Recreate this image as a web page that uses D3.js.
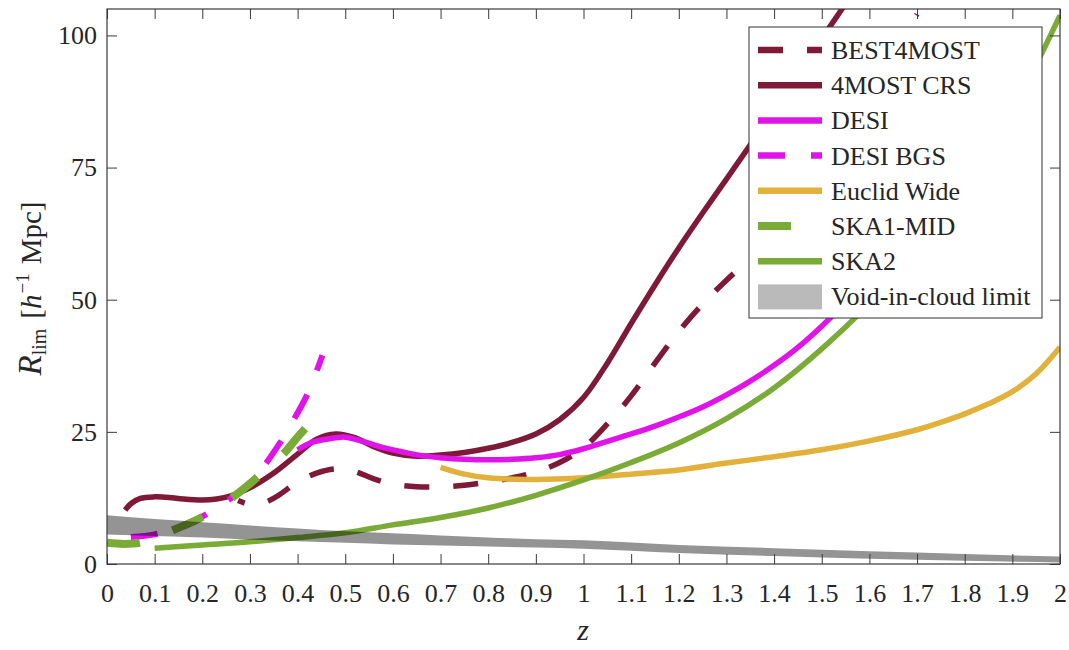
<!DOCTYPE html>
<html>
<head>
<meta charset="utf-8">
<script src="https://cdn.jsdelivr.net/npm/d3@7"></script>
<style>
  body { margin: 0; background: #fff; }
  svg { display: block; }
  text { font-family: "Liberation Serif", "Times New Roman", serif; fill: #262626; }
</style>
</head>
<body>
<svg id="chart" width="1069" height="650"></svg>
<script>
// ---- axis ticks ----
const xTicks = [0,0.1,0.2,0.3,0.4,0.5,0.6,0.7,0.8,0.9,1,1.1,1.2,1.3,1.4,1.5,1.6,1.7,1.8,1.9,2];
const xTickLabels = ["0","0.1","0.2","0.3","0.4","0.5","0.6","0.7","0.8","0.9","1","1.1","1.2","1.3","1.4","1.5","1.6","1.7","1.8","1.9","2"];
const yTicks = [0,25,50,75,100];
const yTickLabels = ["0","25","50","75","100"];

// ---- survey curves: redshift z and limiting void radius R_lim ----
const best4mostZ = [0.275,0.30,0.33,0.36,0.40,0.44,0.48,0.52,0.56,0.60,0.65,0.70,0.75,0.80,0.85,0.90,0.95,1.00,1.05,1.10,1.15,1.20,1.25,1.30,1.35,1.40,1.50,1.60,1.70];
const best4mostR = [12.0,11.3,11.6,13.0,15.5,17.2,18.0,17.5,16.1,15.1,14.6,14.6,14.9,15.5,16.3,17.4,19.2,22.0,26.5,31.8,38.0,44.0,49.2,53.7,57.8,62.5,74.0,88.0,104.0];

const crsZ = [0.038,0.05,0.07,0.10,0.13,0.16,0.20,0.23,0.26,0.30,0.35,0.40,0.44,0.48,0.52,0.56,0.60,0.65,0.70,0.75,0.80,0.85,0.90,0.95,1.00,1.05,1.10,1.15,1.20,1.25,1.30,1.35,1.40,1.45,1.50,1.55,1.60];
const crsR = [10.2,11.4,12.4,12.7,12.6,12.3,12.1,12.3,12.9,14.4,17.2,20.8,23.6,24.6,23.9,22.2,21.0,20.4,20.6,21.1,21.9,23.0,24.6,27.3,31.5,38.0,45.5,52.8,59.8,66.4,72.8,79.3,86.0,92.7,99.4,106.0,112.5];

const desiZ = [0.40,0.43,0.46,0.50,0.54,0.58,0.62,0.66,0.70,0.75,0.80,0.85,0.90,0.95,1.00,1.05,1.10,1.15,1.20,1.25,1.30,1.35,1.40,1.45,1.50,1.55,1.60,1.70,1.80];
const desiR = [21.6,23.0,23.6,24.0,23.1,22.0,21.2,20.5,20.1,19.8,19.7,19.8,20.1,20.7,21.8,23.2,24.6,26.1,27.8,29.7,32.0,34.6,37.6,41.0,45.0,49.5,54.5,66.0,80.0];

const desiBgsZ = [0.05,0.10,0.15,0.20,0.25,0.30,0.325,0.363,0.39,0.42,0.44,0.452];
const desiBgsR = [5.1,5.6,7.0,9.0,11.8,15.3,18.0,22.9,27.0,32.0,36.5,39.5];

const euclidZ = [0.70,0.75,0.80,0.90,1.00,1.10,1.20,1.30,1.40,1.50,1.60,1.70,1.75,1.80,1.85,1.90,1.95,2.00];
const euclidR = [18.3,17.0,16.3,16.0,16.3,17.0,17.8,19.1,20.3,21.6,23.3,25.4,26.8,28.4,30.3,32.6,36.0,41.0];

const ska1Z = [0,0.035,0.07,0.10,0.136,0.17,0.20,0.23,0.265,0.30,0.32,0.35,0.374,0.40,0.43];
const ska1R = [4.0,3.8,4.0,4.8,6.3,7.6,8.9,10.6,12.7,15.2,16.8,19.0,21.2,24.0,27.0];

const ska2Z = [0.10,0.20,0.30,0.40,0.50,0.60,0.70,0.80,0.90,1.00,1.10,1.20,1.30,1.40,1.50,1.60,1.70,1.80,1.90,1.95,2.00];
const ska2R = [3.0,3.6,4.2,5.0,5.9,7.4,8.8,10.6,13.0,15.9,19.2,22.9,27.5,33.3,40.7,49.3,59.5,71.5,86.0,94.5,103.8];

// ---- void-in-cloud limit band ----
const voidZ     = [0,0.1,0.2,0.3,0.4,0.5,0.6,0.7,0.8,0.9,1.0,1.2,1.4,1.6,1.8,2.0];
const voidUpper = [9.2,8.5,7.9,7.3,6.7,6.2,5.8,5.4,5.0,4.7,4.5,3.6,3.0,2.4,1.9,1.4];
const voidLower = [5.6,5.3,5.0,4.6,4.3,4.0,3.7,3.5,3.3,3.1,2.9,2.1,1.5,1.0,0.6,0.3];

const seriesNames = ["BEST4MOST","4MOST CRS","DESI","DESI BGS","Euclid Wide","SKA1-MID","SKA2"];

// ---- styling ----
const C4M = "#7E1A37", CDESI = "#E014E8", CEUC = "#E2B13C", CSKA = "#79AB36";
const series = [
  { name: seriesNames[0], z: best4mostZ, r: best4mostR, color: C4M,   width: 5.5, dash: "25,24", offset: 18 },
  { name: seriesNames[1], z: crsZ,       r: crsR,       color: C4M,   width: 5.5, dash: null },
  { name: seriesNames[2], z: desiZ,      r: desiR,      color: CDESI, width: 5.5, dash: null },
  { name: seriesNames[3], z: desiBgsZ,   r: desiBgsR,   color: CDESI, width: 6,   dash: "27,26" },
  { name: seriesNames[4], z: euclidZ,    r: euclidR,    color: CEUC,  width: 5.5, dash: null },
  { name: seriesNames[5], z: ska1Z,      r: ska1R,      color: CSKA,  width: 8,   dash: "33,35" },
  { name: seriesNames[6], z: ska2Z,      r: ska2R,      color: CSKA,  width: 5.5, dash: null }
];

const svg = d3.select("#chart");
const L = 107, R = 1060, T = 9, B = 564;
const x = d3.scaleLinear().domain([0, 2]).range([L, R]);
const y = d3.scaleLinear().domain([0, 105]).range([B, T]);

svg.append("defs").append("clipPath").attr("id", "plotClip")
  .append("rect").attr("x", L).attr("y", T).attr("width", R - L).attr("height", B - T);

const plot = svg.append("g").attr("clip-path", "url(#plotClip)");

const line = d3.line().x(d => x(d[0])).y(d => y(d[1])).curve(d3.curveCatmullRom.alpha(0.5));

series.forEach(s => {
  const pts = s.z.map((z, i) => [z, s.r[i]]);
  plot.append("path")
    .attr("d", line(pts))
    .attr("fill", "none")
    .attr("stroke", s.color)
    .attr("stroke-width", s.width)
    .attr("stroke-dasharray", s.dash)
    .attr("stroke-dashoffset", s.offset || 0)
    .attr("stroke-linejoin", "round");
});

// translucent band drawn over the curves
const band = d3.area()
  .x(d => x(d[0])).y0(d => y(d[2])).y1(d => y(d[1]))
  .curve(d3.curveMonotoneX);
plot.append("path")
  .attr("d", band(voidZ.map((z, i) => [z, voidUpper[i], voidLower[i]])))
  .attr("fill", "#000").attr("fill-opacity", 0.42);

// ---- axes (box with inward ticks on all four sides) ----
const axisColor = "#3a3a3a";
function styleAxis(g) {
  g.select(".domain").remove();
  g.selectAll(".tick line").attr("stroke", axisColor).attr("stroke-width", 1);
  g.selectAll("text").attr("font-size", 26).attr("fill", "#262626")
    .style("font-family", '"Liberation Serif", serif');
}
svg.append("g").attr("transform", `translate(0,${B})`)
  .call(d3.axisBottom(x).tickValues(xTicks).tickFormat((d, i) => xTickLabels[i])
        .tickSizeInner(-10).tickSizeOuter(0).tickPadding(20))
  .call(styleAxis);
svg.append("g").attr("transform", `translate(0,${T})`)
  .call(d3.axisTop(x).tickValues(xTicks).tickFormat("").tickSizeInner(-10).tickSizeOuter(0))
  .call(styleAxis);
svg.append("g").attr("transform", `translate(${L},0)`)
  .call(d3.axisLeft(y).tickValues(yTicks).tickFormat((d, i) => yTickLabels[i])
        .tickSizeInner(-10).tickSizeOuter(0).tickPadding(10))
  .call(styleAxis);
svg.append("g").attr("transform", `translate(${R},0)`)
  .call(d3.axisRight(y).tickValues(yTicks).tickFormat("").tickSizeInner(-10).tickSizeOuter(0))
  .call(styleAxis);
svg.append("rect").attr("x", L).attr("y", T).attr("width", R - L).attr("height", B - T)
  .attr("fill", "none").attr("stroke", axisColor).attr("stroke-width", 1.2);

// ---- axis labels ----
svg.append("text").attr("x", (L + R) / 2 - 0.5).attr("y", 640)
  .attr("text-anchor", "middle").attr("font-size", 30).attr("font-style", "italic").text("z");

const yl = svg.append("text")
  .attr("transform", `translate(41,${(T + B) / 2 + 2}) rotate(-90)`)
  .attr("text-anchor", "middle").attr("font-size", 29);
yl.append("tspan").attr("font-style", "italic").attr("font-size", 33).text("R");
yl.append("tspan").attr("font-size", 20).attr("dy", 5).text("lim");
yl.append("tspan").attr("dy", -5).attr("dx", 10).text("[");
yl.append("tspan").attr("font-style", "italic").text("h");
yl.append("tspan").attr("font-size", 19).attr("dy", -12).attr("dx", 1).text("\u22121");
yl.append("tspan").attr("dy", 12).attr("dx", 9).text("Mpc]");

// ---- legend ----
const lg = svg.append("g");
lg.append("rect").attr("x", 749).attr("y", 27).attr("width", 293).attr("height", 291)
  .attr("fill", "#fff").attr("stroke", "#333").attr("stroke-width", 1);
const rowY = i => 50 + i * 35.2;
series.forEach((s, i) => {
  lg.append("line").attr("x1", 758).attr("x2", 822).attr("y1", rowY(i)).attr("y2", rowY(i))
    .attr("stroke", s.color).attr("stroke-width", Math.max(s.width, 6.5))
    .attr("stroke-dasharray", s.dash);
  lg.append("text").attr("x", 831).attr("y", rowY(i) + 9).attr("font-size", 26).text(s.name);
});
lg.append("rect").attr("x", 758).attr("y", rowY(7) - 12).attr("width", 64).attr("height", 25)
  .attr("fill", "#000").attr("fill-opacity", 0.27);
lg.append("text").attr("x", 831).attr("y", rowY(7) + 9).attr("font-size", 26).text("Void-in-cloud limit");
</script>
</body>
</html>
